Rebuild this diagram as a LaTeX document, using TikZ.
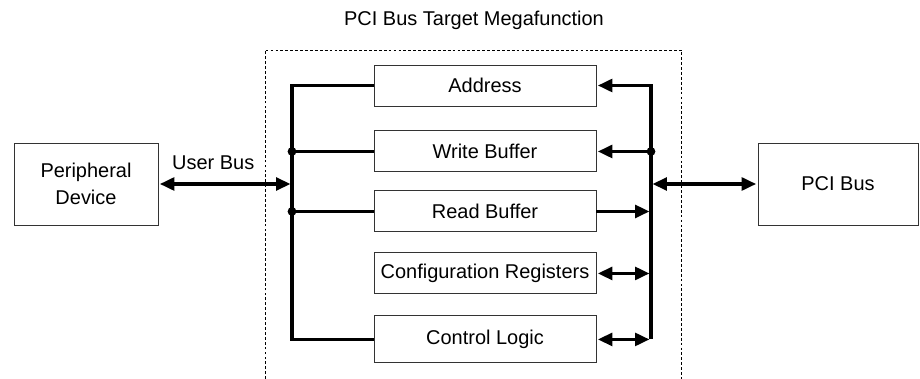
\documentclass[tikz,border=0pt]{standalone}
\usepackage{fontspec}
\setmainfont{Liberation Sans}
\usetikzlibrary{arrows.meta, positioning}

\begin{document}
\begin{tikzpicture}[
    font=\fontsize{14.2}{19}\selectfont,
    >={Triangle[length=3.6mm, width=3.2mm]},
    block/.style={rectangle, draw=black!80, line width=0.7pt, align=center, minimum height=1.025cm, inner sep=2pt},
    unit/.style={block, minimum width=5.55cm},
    bus/.style={line width=2.2pt},
    dot/.style={circle, fill=black, inner sep=0pt, minimum size=2.2mm},
    frame/.style={dash pattern=on 2pt off 1.5pt, line width=0.7pt}
]
\useasboundingbox (0,0) rectangle (23,-9.475);

% Nodes
\node (title) at (11.85,-0.5) {PCI Bus Target Megafunction};
\node (address) [unit] at (12.125,-2.1375) {Address};
\node (writeBuf) [unit, below=0.6cm of address] {Write Buffer};
\node (readBuf) [unit, below=0.45cm of writeBuf] {Read Buffer};
\node (config) [unit, below=0.5cm of readBuf] {Configuration Registers};
\node (control) [unit, below=0.525cm of config, minimum height=1.175cm] {Control Logic};

% Outer devices
\node (periph) [block, minimum width=3.6cm, minimum height=2.05cm] at (2.15,-4.6) {Peripheral\\Device};
\node (pciBus) [block, minimum width=4cm, minimum height=2.05cm] at (20.95,-4.6) {PCI Bus};

% Megafunction boundary, open at the bottom
\draw[frame] (6.625,-9.475) |- (17.04,-1.25) -- (17.04,-9.475);

% Bus lines
\coordinate (leftBus) at (7.3,0);
\coordinate (rightBus) at (16.275,0);
\draw[bus] (address.west) -| (leftBus |- control.west) -- (control.west);
\draw[bus] (writeBuf.west) -- (writeBuf.west -| leftBus);
\draw[bus] (readBuf.west) -- (readBuf.west -| leftBus);
\draw[bus, ->, shorten >=1pt] (rightBus |- control.east) -- (rightBus |- address.east) -- (address.east);

% Arrows
\draw[bus, ->, shorten >=1pt] (writeBuf.east -| rightBus) -- (writeBuf.east);
\draw[bus, ->, shorten >=1.1pt] (readBuf.east) -- (readBuf.east -| rightBus);
\draw[bus, <->, shorten <=1pt, shorten >=1.1pt] (config.east) -- (config.east -| rightBus);
\draw[bus, <->, shorten <=1pt, shorten >=1.1pt] (control.east) -- (control.east -| rightBus);
\draw[bus, <->, shorten <=1pt, shorten >=1.1pt] (periph.east) -- (periph.east -| leftBus)
    node (userBus) [midway, above=0.2cm, xshift=-0.3cm] {User Bus};
\draw[bus, <->, shorten <=1.1pt, shorten >=1pt] (pciBus.west -| rightBus) -- (pciBus.west);

% Junctions
\node (dotWrite) [dot] at (writeBuf.west -| leftBus) {};
\node (dotRead) [dot] at (readBuf.west -| leftBus) {};
\node (dotPci) [dot] at (writeBuf.east -| rightBus) {};

\end{tikzpicture}
\end{document}
